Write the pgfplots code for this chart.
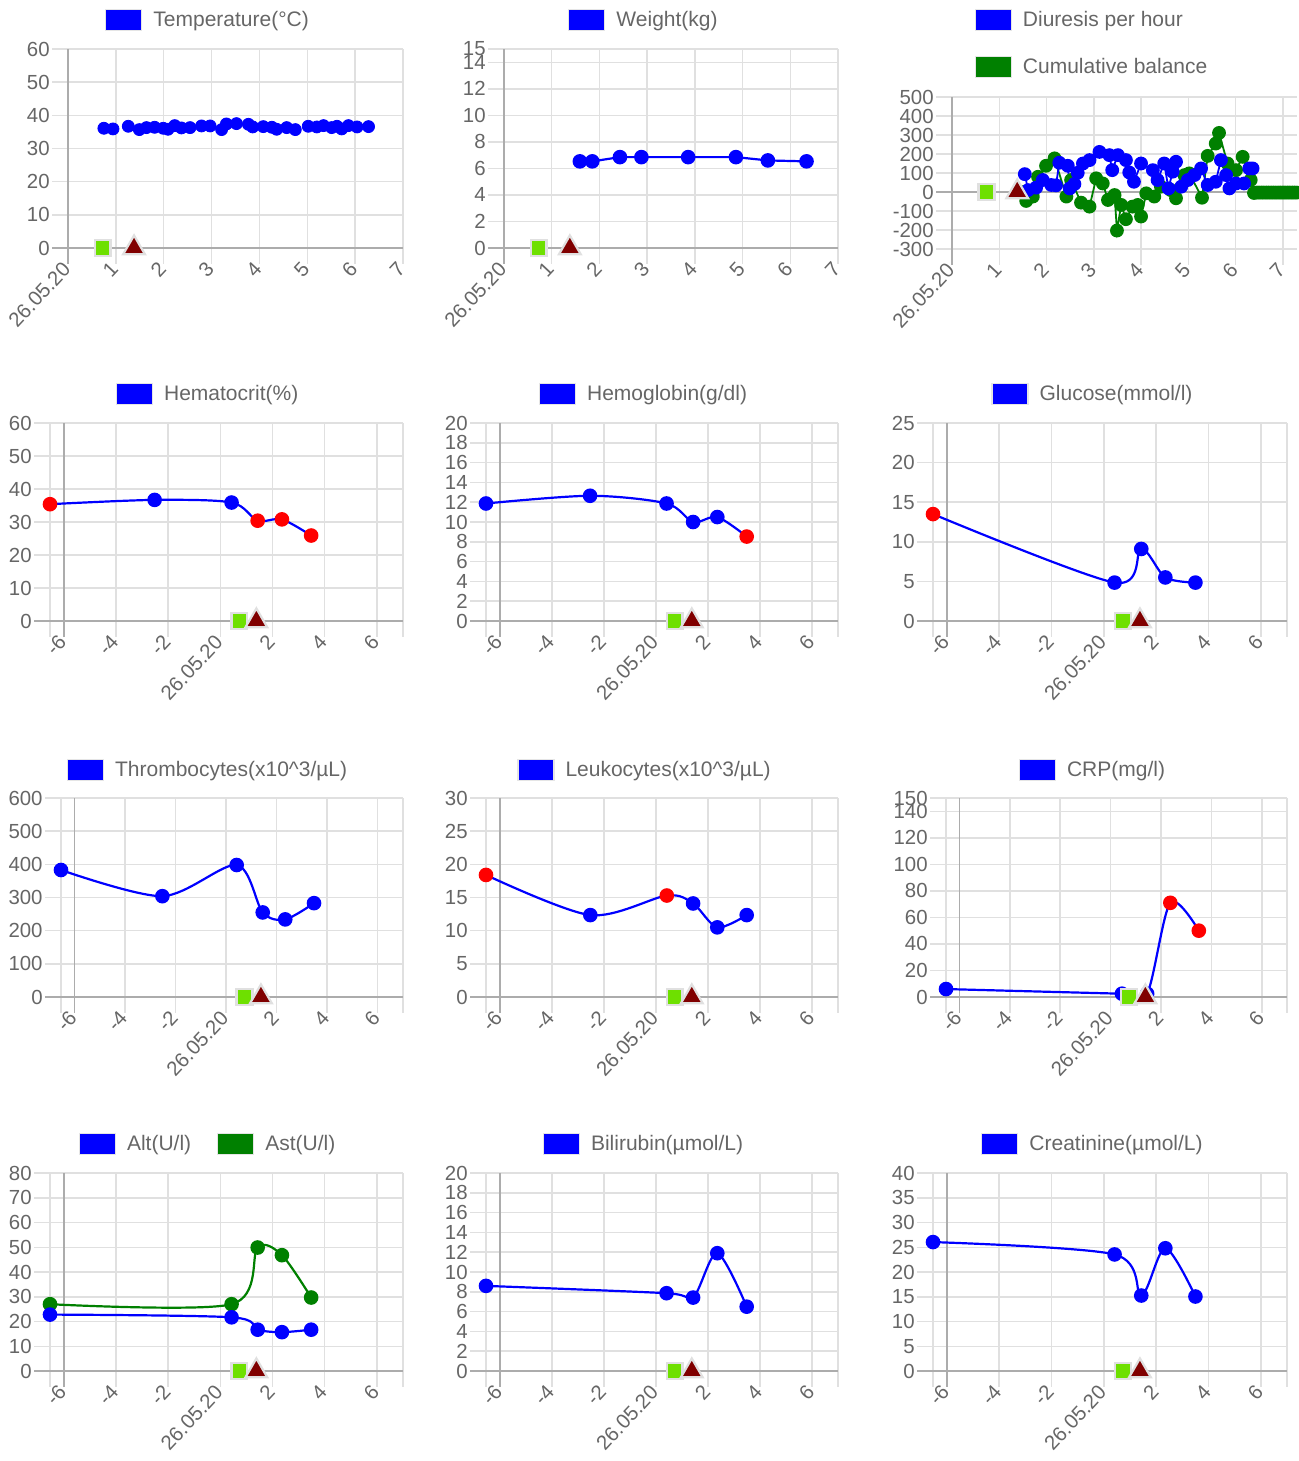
\documentclass[border=0pt]{standalone}
\usepackage{pgfplots}
\pgfplotsset{compat=1.18}
\usepackage{fontspec}
\setmainfont{Liberation Sans}
\definecolor{gridc}{HTML}{E0E0E0}
\definecolor{zeroc}{HTML}{ACACAC}
\definecolor{txt}{HTML}{666666}
\definecolor{lgreen}{HTML}{6EE000}
\definecolor{maroonc}{HTML}{800000}
\definecolor{dgreen}{HTML}{008000}
\definecolor{pblue}{HTML}{0000FF}
\definecolor{pred}{HTML}{FF0000}
\pgfplotsset{
  base/.style={
    scale only axis, axis line style={draw=none},
    xtick pos=bottom, ytick pos=left, tick align=outside,
    major tick length=8pt, minor tick length=8pt,
    tick style={draw=gridc, line width=0.75pt},
    grid=both,
    major grid style={draw=gridc, line width=0.75pt},
    minor grid style={draw=gridc, line width=0.75pt},
    tick label style={font=\fontsize{10.2}{12}\selectfont, text=txt},
    xticklabel style={rotate=47, anchor=east, inner sep=1pt},
    yticklabel style={inner sep=1pt},
    /pgf/number format/assume math mode=true,
    extra y ticks={0},
    extra y tick style={major grid style={draw=zeroc, line width=0.75pt}, major tick style={draw=zeroc, line width=0.75pt}},
    extra x tick style={major grid style={draw=zeroc, line width=0.75pt}, major tick style={draw=zeroc, line width=0.75pt}},
    legend style={draw=none, fill=none, font=\fontsize{10.5}{12.6}\selectfont, text=txt, nodes={inner sep=0pt}, /tikz/every odd column/.style={column sep=5.5pt}, anchor=center},
    legend cell align=left,
  },
  legpos/.style 2 args={legend style={at={(#1,1)}, yshift=#2}},
  rowone/.style={xmin=0, xmax=7, xtick={1,...,7}, xticklabels={1,2,3,4,5,6,7}, extra x ticks={0}, extra x tick labels={26.05.20}},
  rowlab/.style={xmin=-6.53, xmax=7, xtick={-4,-2,0,2,4,6}, xticklabels={-4,-2,26.05.20,2,4,6}, extra x ticks={-6}, extra x tick labels={-6}, minor xtick={-6.53,7}},
  legbox/.style={legend image code/.code={\draw[fill=#1, draw=black!10, line width=0.6pt] (0pt,-5.25pt) rectangle (18pt,5.25pt);}},
  dots/.style={scatter, scatter src=explicit symbolic, scatter/classes={b={mark=*, draw=pblue, fill=pblue}, r={mark=*, draw=pred, fill=pred}}, mark size=3.1pt},
  ln/.style={pblue, line width=1.1pt, smooth, tension=0.5, forget plot},
}
\newcommand\events{%
  \addplot[only marks, mark=square*, mark size=3.9pt, mark options={fill=lgreen, draw=gridc, line width=1.25pt}, forget plot] coordinates {(0.73,0)};
  \addplot[only marks, mark=triangle*, mark size=6.3pt, mark options={fill=maroonc, draw=gridc, line width=1.1pt}, forget plot] coordinates {(1.38,0)};
}
\begin{document}
\begin{tikzpicture}
\useasboundingbox (0pt,0pt) rectangle (649pt,-730.5pt);
% ---------- Row 1 ----------
\begin{axis}[base, rowone, at={(34pt,-124pt)}, anchor=south west, width=167.5pt, height=99.5pt,
  ymin=0, ymax=60, ytick={10,20,...,60}, legpos={0.415}{14.5pt}]
\addlegendimage{legbox=pblue}\addlegendentry{Temperature(°C)}
\addplot[only marks, mark=*, mark size=3pt, pblue, forget plot] coordinates {
(0.75,36.1)(0.94,35.9)(1.26,36.7)(1.49,35.7)(1.64,36.3)(1.81,36.4)(1.99,36.1)(2.09,35.8)
(2.23,36.9)(2.37,36.2)(2.55,36.3)(2.79,36.8)(2.97,36.8)(3.21,35.7)(3.31,37.4)(3.52,37.5)
(3.77,37.3)(3.86,36.5)(4.08,36.6)(4.26,36.4)(4.36,35.8)(4.57,36.3)(4.75,35.7)(5.02,36.7)
(5.20,36.5)(5.34,36.9)(5.51,36.3)(5.62,36.7)(5.72,35.9)(5.86,36.9)(6.04,36.5)(6.28,36.6)};
\events
\end{axis}
\begin{axis}[base, rowone, at={(252pt,-124pt)}, anchor=south west, width=167pt, height=99.5pt,
  ymin=0, ymax=15, ytick={2,4,6,8,10,12,14,15}, legpos={0.416}{14.5pt}]
\addlegendimage{legbox=pblue}\addlegendentry{Weight(kg)}
\addplot[pblue, line width=1.1pt, mark=*, mark size=3.1pt, forget plot] coordinates {
(1.59,6.53)(1.85,6.53)(2.43,6.85)(2.88,6.85)(3.86,6.85)(4.86,6.85)(5.53,6.6)(6.34,6.53)};
\events
\end{axis}
\begin{axis}[base, xmin=0, xmax=7.3, xtick={1,...,7}, xticklabels={1,2,3,4,5,6,7}, extra x ticks={0}, extra x tick labels={26.05.20},
  at={(476pt,-124.5pt)}, anchor=south west, width=172.5pt, height=76pt,
  ymin=-300, ymax=500, ytick={-300,-200,-100,100,200,300,400,500}, yticklabels={-300,-200,-100,100,200,300,400,500},
  extra y tick labels={0}, legend columns=1, legend style={row sep=12.5pt}, legpos={0.403}{26.75pt}]
\addlegendimage{legbox=pblue}\addlegendentry{Diuresis per hour}
\addlegendimage{legbox=dgreen}\addlegendentry{Cumulative balance}
\addplot[dgreen, line width=0.9pt, mark=*, mark size=3pt, forget plot] coordinates {
(1.43,2)(1.57,-47)(1.71,-24)(1.82,80)(1.99,138)(2.17,177)(2.42,-24)(2.52,63)(2.73,-56)(2.91,-77)
(3.05,72)(3.19,45)(3.30,-42)(3.44,-16)(3.49,-203)(3.58,-68)(3.68,-143)(3.82,-77)(3.93,-68)(4.00,-129)
(4.11,-7)(4.28,-24)(4.42,28)(4.63,10)(4.74,-33)(4.92,89)(5.02,98)(5.29,-30)(5.41,190)(5.58,255)
(5.65,311)(5.83,150)(6.01,115)(6.15,185)(6.32,63)(6.39,-5)(6.45,-3)(6.50,-3)(6.55,-3)(6.60,-3)
(6.65,-3)(6.70,-3)(6.75,-3)(6.80,-3)(6.85,-3)(6.90,-3)(6.95,-3)(7.00,-3)(7.05,-3)(7.10,-3)
(7.15,-3)(7.20,-3)(7.25,-3)(7.30,-3)};
\addplot[pblue, line width=0.9pt, mark=*, mark size=3pt, forget plot] coordinates {
(1.54,94)(1.61,10)(1.78,23)(1.92,63)(2.10,37)(2.20,35)(2.27,154)(2.45,138)(2.49,19)(2.59,42)
(2.66,101)(2.77,150)(2.91,168)(3.12,211)(3.33,194)(3.39,115)(3.51,194)(3.68,168)(3.75,103)(3.85,54)
(4.00,150)(4.25,115)(4.35,63)(4.49,150)(4.58,19)(4.67,107)(4.74,159)(4.85,28)(4.99,63)(5.13,89)
(5.27,124)(5.41,37)(5.58,54)(5.69,168)(5.80,89)(5.87,19)(6.01,45)(6.18,45)(6.29,124)(6.36,124)};
\events
\end{axis}
% ---------- Row 2 ----------
\begin{axis}[base, rowlab, at={(25pt,-310.5pt)}, anchor=south west, width=176.5pt, height=99pt,
  ymin=0, ymax=60, ytick={10,20,...,60}, legpos={0.445}{14.5pt}]
\addlegendimage{legbox=pblue}\addlegendentry{Hematocrit(\%)}
\addplot[ln, dots] coordinates {(-6.53,35.4)[r] (-2.52,36.7)[b] (0.43,35.9)[b] (1.43,30.4)[r] (2.36,30.8)[r] (3.48,25.9)[r]};
\events
\end{axis}
\begin{axis}[base, rowlab, at={(243pt,-310.5pt)}, anchor=south west, width=176pt, height=99pt,
  ymin=0, ymax=20, ytick={2,4,...,20}, legpos={0.446}{14.5pt}]
\addlegendimage{legbox=pblue}\addlegendentry{Hemoglobin(g/dl)}
\addplot[ln, dots] coordinates {(-6.53,11.87)[b] (-2.53,12.65)[b] (0.41,11.87)[b] (1.43,10.0)[b] (2.36,10.5)[b] (3.49,8.53)[r]};
\events
\end{axis}
\begin{axis}[base, rowlab, at={(466.5pt,-310.5pt)}, anchor=south west, width=177pt, height=99pt,
  ymin=0, ymax=25, ytick={5,10,...,25}, legpos={0.449}{14.5pt}]
\addlegendimage{legbox=pblue}\addlegendentry{Glucose(mmol/l)}
\addplot[ln, dots] coordinates {(-6.53,13.5)[r] (0.41,4.85)[b] (1.43,9.1)[b] (2.35,5.5)[b] (3.5,4.85)[b]};
\events
\end{axis}
% ---------- Row 3 ----------
\begin{axis}[base, rowlab, at={(30.5pt,-498.5pt)}, anchor=south west, width=171pt, height=99.5pt,
  ymin=0, ymax=600, ytick={100,200,...,600}, legpos={0.427}{14pt}]
\addlegendimage{legbox=pblue}\addlegendentry{Thrombocytes(x10\textasciicircum 3/µL)}
\addplot[ln, dots] coordinates {(-6.53,383)[b] (-2.52,304)[b] (0.42,398)[b] (1.45,255)[b] (2.34,234)[b] (3.48,283)[b]};
\events
\end{axis}
\begin{axis}[base, rowlab, at={(243pt,-498.5pt)}, anchor=south west, width=176pt, height=99.5pt,
  ymin=0, ymax=30, ytick={5,10,...,30}, legpos={0.449}{14pt}]
\addlegendimage{legbox=pblue}\addlegendentry{Leukocytes(x10\textasciicircum 3/µL)}
\addplot[ln, dots] coordinates {(-6.53,18.4)[r] (-2.52,12.35)[b] (0.42,15.3)[r] (1.43,14.1)[b] (2.36,10.5)[b] (3.49,12.35)[b]};
\events
\end{axis}
\begin{axis}[base, rowlab, at={(473pt,-498.5pt)}, anchor=south west, width=170.5pt, height=99.5pt,
  ymin=0, ymax=150, ytick={20,40,60,80,100,120,140,150}, legpos={0.428}{14pt}]
\addlegendimage{legbox=pblue}\addlegendentry{CRP(mg/l)}
\addplot[ln, dots] coordinates {(-6.53,6)[b] (0.45,2.5)[b] (1.45,2.5)[b] (2.37,71)[r] (3.5,50)[r]};
\events
\end{axis}
% ---------- Row 4 ----------
\begin{axis}[base, rowlab, at={(25pt,-685.5pt)}, anchor=south west, width=176.5pt, height=99pt,
  ymin=0, ymax=80, ytick={10,20,...,80}, legend columns=2,
  legend style={/tikz/every even column/.style={column sep=13pt}}, legpos={0.445}{14.5pt}]
\addlegendimage{legbox=pblue}\addlegendentry{Alt(U/l)}
\addlegendimage{legbox=dgreen}\addlegendentry{Ast(U/l)}
\addplot[dgreen, line width=1.1pt, smooth, tension=0.5, mark=*, mark size=3.1pt, forget plot] coordinates {(-6.53,27)(0.43,27)(1.43,49.9)(2.36,46.8)(3.48,29.7)};
\addplot[pblue, line width=1.1pt, smooth, tension=0.5, mark=*, mark size=3.1pt, forget plot] coordinates {(-6.53,22.8)(0.43,21.7)(1.43,16.7)(2.36,15.7)(3.48,16.7)};
\events
\end{axis}
\begin{axis}[base, rowlab, at={(243pt,-685.5pt)}, anchor=south west, width=176pt, height=99pt,
  ymin=0, ymax=20, ytick={2,4,...,20}, legpos={0.446}{14.5pt}]
\addlegendimage{legbox=pblue}\addlegendentry{Bilirubin(µmol/L)}
\addplot[ln, dots] coordinates {(-6.53,8.6)[b] (0.41,7.86)[b] (1.43,7.42)[b] (2.36,11.9)[b] (3.49,6.5)[b]};
\events
\end{axis}
\begin{axis}[base, rowlab, at={(466.5pt,-685.5pt)}, anchor=south west, width=177pt, height=99pt,
  ymin=0, ymax=40, ytick={5,10,...,40}, legpos={0.449}{14.5pt}]
\addlegendimage{legbox=pblue}\addlegendentry{Creatinine(µmol/L)}
\addplot[ln, dots] coordinates {(-6.53,26.05)[b] (0.41,23.55)[b] (1.43,15.25)[b] (2.35,24.8)[b] (3.5,15.05)[b]};
\events
\end{axis}
\end{tikzpicture}
\end{document}
